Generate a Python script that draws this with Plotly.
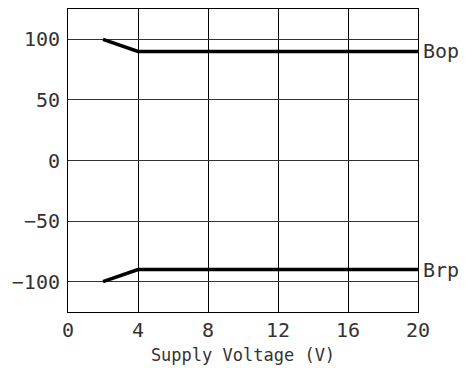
import plotly.graph_objects as go

# Magnetic switch points versus supply voltage
voltage = [2, 4, 20]
bop = [100, 90, 90]
brp = [-100, -90, -90]

x_ticks = [0, 4, 8, 12, 16, 20]
y_ticks = [100, 50, 0, -50, -100]
y_tick_text = ["100", "50", "0", "\u221250", "\u2212100"]

font_family = "DejaVu Sans Mono"
text_color = "#333"

fig = go.Figure()
for name, values in (("Bop", bop), ("Brp", brp)):
    fig.add_trace(go.Scatter(
        x=voltage, y=values, mode="lines", name=name,
        line=dict(color="black", width=3.5), showlegend=False,
    ))
    fig.add_annotation(
        x=voltage[-1], y=values[-1], text=name, showarrow=False,
        xanchor="left", yanchor="middle", xshift=3,
        font=dict(family=font_family, size=20, color=text_color),
    )

fig.update_xaxes(
    range=[0, 20], tickvals=x_ticks, showgrid=True, gridcolor="black", gridwidth=1,
    zeroline=False, showline=True, linecolor="black", linewidth=1, mirror=True,
    ticks="", tickfont=dict(family=font_family, size=20, color=text_color),
    ticklabelstandoff=0, automargin=False,
    title=dict(text="Supply Voltage (V)", standoff=8,
               font=dict(family=font_family, size=17, color=text_color)),
)
fig.update_yaxes(
    range=[-125, 125], tickvals=y_ticks, ticktext=y_tick_text,
    showgrid=True, gridcolor="#333", gridwidth=1,
    zeroline=False, showline=True, linecolor="black", linewidth=1, mirror=True,
    ticks="", tickfont=dict(family=font_family, size=20, color=text_color),
    ticklabelstandoff=3, automargin=False,
)
fig.update_layout(
    width=472, height=368,
    margin=dict(l=68, r=54, t=9, b=56),
    paper_bgcolor="white", plot_bgcolor="white",
)
fig.write_html("out.html")
